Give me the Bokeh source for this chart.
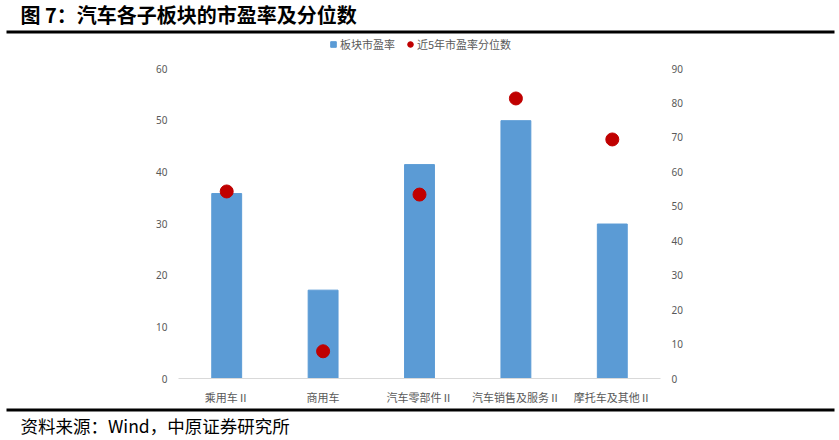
from bokeh.plotting import figure
from bokeh.models import (ColumnDataSource, FactorRange, Range1d, LinearAxis, FixedTicker,
                          Legend, LegendItem)
from bokeh.layouts import column
from bokeh.core.properties import value
from bokeh.embed import file_html
from bokeh.resources import INLINE

# ---------------- data ----------------
categories = ["乘用车Ⅱ", "商用车", "汽车零部件Ⅱ", "汽车销售及服务Ⅱ", "摩托车及其他Ⅱ"]
pe_values = [35.8, 17.1, 41.4, 49.9, 29.9]          # 板块市盈率 (left axis)
pct_values = [54.3, 7.9, 53.4, 81.3, 69.4]          # 近5年市盈率分位数 (right axis)
left_ticks = [0, 10, 20, 30, 40, 50, 60]
right_ticks = [0, 10, 20, 30, 40, 50, 60, 70, 80, 90]

title_text = "图 7：汽车各子板块的市盈率及分位数"
source_text = "资料来源：Wind，中原证券研究所"
legend_bar = "板块市盈率"
legend_dot = "近5年市盈率分位数"

# ---------------- layout constants (page px) ----------------
W = 839
TOP_H = 55            # title + rule + legend strip
MID_H = 352           # chart
BOT_H = 33            # rule + source
FRAME_L, FRAME_W = 178, 482
FRAME_T, FRAME_H = 13, 312

BAR_C = "#5B9BD5"
DOT_C = "#C00000"
GREY = "#595959"
CJK = "Noto Sans CJK SC"


def strip(h):
    f = figure(width=W, height=h, output_backend="svg", toolbar_location=None,
               x_range=Range1d(0, W), y_range=Range1d(h, 0),
               min_border=0, x_axis_location=None, y_axis_location=None,
               frame_align=False)
    f.outline_line_color = None
    f.xgrid.grid_line_color = None
    f.ygrid.grid_line_color = None
    f.background_fill_color = "white"
    f.border_fill_color = "white"
    return f


# ---------------- top strip: title, rule, legend ----------------
top = strip(TOP_H)
top.text(x=[20], y=[14], text=[title_text], text_font=value(CJK),
         text_font_size="20px", text_font_style="bold", text_color="black",
         text_baseline="middle", text_align="left")
top.segment(x0=[6], y0=[31.5], x1=[834], y1=[31.5], line_width=3, line_color="black")
# legend key renderers (their single point lies outside the strip, only the key is seen)
leg_sq = top.scatter(x=[-100], y=[-100], marker="square", fill_color=BAR_C, line_color=BAR_C)
leg_ci = top.scatter(x=[-100], y=[-100], marker="circle", fill_color=DOT_C, line_color=DOT_C)
legend = Legend(items=[LegendItem(label=legend_bar, renderers=[leg_sq]),
                       LegendItem(label=legend_dot, renderers=[leg_ci])],
                location=(326, 1.5), orientation="horizontal",
                glyph_width=14, glyph_height=14, label_standoff=0, spacing=8,
                padding=0, margin=0, border_line_color=None, background_fill_alpha=0,
                label_text_font=CJK, label_text_font_size="11px", label_text_color=GREY,
                label_height=20)
top.add_layout(legend, "center")

# ---------------- main chart ----------------
src = ColumnDataSource(dict(cat=categories, pe=pe_values, pct=pct_values))

p = figure(width=W, height=MID_H, output_backend="svg", toolbar_location=None,
           x_range=FactorRange(factors=categories, range_padding=0),
           y_range=Range1d(left_ticks[0], left_ticks[-1]),
           min_border_left=FRAME_L, min_border_right=W - FRAME_L - FRAME_W,
           min_border_top=FRAME_T, min_border_bottom=MID_H - FRAME_T - FRAME_H,
           y_axis_location=None, frame_align=False)
p.extra_y_ranges = {"pct": Range1d(right_ticks[0], right_ticks[-1])}
p.outline_line_color = None
p.background_fill_color = "white"
p.border_fill_color = "white"
p.xgrid.grid_line_color = None
p.ygrid.grid_line_color = None

xa = p.xaxis[0]
xa.axis_line_color = "#D9D9D9"
xa.axis_line_width = 1
xa.major_tick_line_color = None
xa.minor_tick_line_color = None
xa.major_tick_out = 0
xa.major_tick_in = 0
xa.major_label_text_font = CJK
xa.major_label_text_font_size = "11px"
xa.major_label_text_color = GREY
xa.major_label_standoff = 10

la = LinearAxis(ticker=FixedTicker(ticks=left_ticks))
ra = LinearAxis(ticker=FixedTicker(ticks=right_ticks), y_range_name="pct")
for ax in (la, ra):
    ax.axis_line_color = None
    ax.major_tick_line_color = None
    ax.minor_tick_line_color = None
    ax.major_tick_out = 0
    ax.major_tick_in = 0
    ax.minor_tick_out = 0
    ax.major_label_text_font = "Noto Sans"
    ax.major_label_text_font_size = "10px"
    ax.major_label_text_color = GREY
    ax.major_label_standoff = 11
p.add_layout(la, "left")
p.add_layout(ra, "right")

p.vbar(x="cat", top="pe", width=0.31, source=src, fill_color=BAR_C, line_color=BAR_C)
p.scatter(x="cat", y="pct", source=src, y_range_name="pct", size=13, marker="circle",
          fill_color=DOT_C, line_color=DOT_C)

# ---------------- bottom strip: rule, source ----------------
bot = strip(BOT_H)
bot.segment(x0=[6], y0=[2.5], x1=[834], y1=[2.5], line_width=3, line_color="black")
bot.text(x=[20], y=[18], text=[source_text], text_font=value(CJK),
         text_font_size="17.5px", text_color="black",
         text_baseline="middle", text_align="left")

layout = column(top, p, bot, spacing=0)
open("out.html", "w").write(file_html(layout, INLINE))
